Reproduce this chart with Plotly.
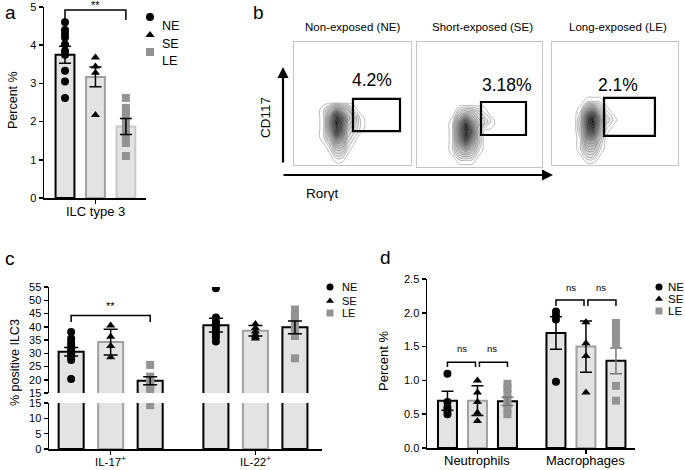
import plotly.graph_objects as go

W, H = 685, 470
FONT = "Liberation Sans, Arial, sans-serif"

groups = ["NE", "SE", "LE"]
symbols = ["circle", "triangle-up", "square"]
pt_colors = ["black", "black", "#939393"]

# ---------------- panel a ----------------
a_category = ["ILC type 3"]
a_mean = [3.75, 3.17, 1.87]
a_sem = [0.22, 0.26, 0.21]
a_ne_pts = [4.6, 4.4, 4.3, 4.2, 4.02, 3.85, 3.75, 3.33, 3.05, 2.62]
a_se_pts = [3.68, 3.44, 3.28, 2.17]
a_le_pts = [2.62, 2.36, 2.26, 2.12, 1.98, 1.84, 1.7, 1.56, 1.44, 1.1]
a_sig = "**"
a_bracket_y = [4.66, 4.92]

# ---------------- panel b ----------------
b_titles = ["Non-exposed (NE)", "Short-exposed (SE)", "Long-exposed (LE)"]
b_percent = ["4.2%", "3.18%", "2.1%"]
b_xlabel = "Rorγt"
b_ylabel = "CD117"
ne_fx = [2.0, 2.6, 3.1, 3.6, 4.1, 4.6, 5.1, 5.6, 6.2]
ne_fy = [0.0, 0.6, 1.4, 2.2, 3.0, 3.8, 4.5, 5.1]
ne_fz = [
    [0, 0, 0, 0, 0, 0, 0, 0, 0],
    [0, 0, 0, 1, 1, 0, 0, 0, 0],
    [0, 0, 1, 3, 3, 1, 0, 0, 0],
    [0, 1, 3, 6, 5, 2, 1, 0, 0],
    [0, 1, 5, 9, 7, 3, 2, 1, 0],
    [0, 1, 5, 10, 7, 4, 3, 1, 0],
    [0, 1, 3, 5, 4, 3, 1, 0, 0],
    [0, 0, 0, 0, 0, 0, 0, 0, 0],
]
se_fx = [2.4, 2.9, 3.4, 3.9, 4.4, 4.9, 5.4, 5.9, 6.4]
se_fy = [0.0, 0.6, 1.3, 2.0, 2.8, 3.6, 4.3, 5.0]
se_fz = [
    [0, 0, 0, 0, 0, 0, 0, 0, 0],
    [0, 0, 1, 1, 1, 0, 0, 0, 0],
    [0, 1, 3, 4, 3, 1, 0, 0, 0],
    [0, 1, 5, 7, 5, 2, 0, 0, 0],
    [0, 1, 6, 10, 7, 2, 0, 0, 0],
    [0, 1, 5, 8, 5, 3, 2, 1, 0],
    [0, 0, 2, 3, 3, 2, 1, 0, 0],
    [0, 0, 0, 0, 0, 0, 0, 0, 0],
]
le_fx = [1.8, 2.3, 2.8, 3.3, 3.8, 4.3, 4.8, 5.3]
le_fy = [0.0, 0.5, 1.3, 2.1, 2.9, 3.7, 4.4, 5.1, 5.7]
le_fz = [
    [0, 0, 0, 0, 0, 0, 0, 0],
    [0, 0, 1, 1, 0, 0, 0, 0],
    [0, 1, 3, 3, 1, 0, 0, 0],
    [0, 1, 5, 5, 2, 0, 0, 0],
    [0, 2, 7, 8, 4, 1, 0, 0],
    [0, 2, 8, 10, 5, 2, 1, 0],
    [0, 1, 5, 6, 3, 1, 0, 0],
    [0, 0, 1, 1, 1, 0, 0, 0],
    [0, 0, 0, 0, 0, 0, 0, 0],
]
gate_x0 = [5.04, 5.12, 4.13]
gate_x1 = [9.06, 8.72, 8.17]
gate_y0 = [2.76, 2.56, 2.36]
gate_y1 = [5.37, 5.20, 5.45]

# ---------------- panel c ----------------
c_categories = ["IL-17<sup>+</sup>", "IL-22<sup>+</sup>"]
c_ne_mean = [30.6, 40.6]
c_se_mean = [34.2, 38.5]
c_le_mean = [19.6, 39.8]
c_ne_sem = [1.6, 2.6]
c_se_sem = [4.9, 2.0]
c_le_sem = [1.5, 2.4]
c_ne_pts = [[38.0, 35.6, 34.2, 33.0, 32.0, 31.0, 30.0, 29.0, 28.2, 27.5, 20.3],
            [54.5, 43.5, 42.0, 41.0, 40.0, 39.0, 37.5, 36.0, 34.4]]
c_se_pts = [[40.5, 36.2, 32.7, 28.5],
            [41.0, 39.5, 38.2, 37.0, 36.2, 35.6]]
c_le_pts = [[25.6, 21.2, 19.8, 18.4, 17.2, 16.0, 14.3],
            [46.5, 44.2, 42.2, 40.2, 38.2, 36.5, 28.1]]
c_sig = "**"
c_bracket_y = [41.8, 44.2]

# ---------------- panel d ----------------
d_categories = ["Neutrophils", "Macrophages"]
d_ne_mean = [0.70, 1.70]
d_se_mean = [0.70, 1.50]
d_le_mean = [0.69, 1.29]
d_ne_sem = [0.14, 0.24]
d_se_sem = [0.22, 0.38]
d_le_sem = [0.06, 0.19]
d_ne_pts = [[1.10, 0.68, 0.60, 0.55, 0.50], [2.02, 1.96, 1.90, 0.98]]
d_se_pts = [[1.00, 0.82, 0.68, 0.52, 0.40], [1.86, 1.55, 1.36, 0.82]]
d_le_pts = [[0.95, 0.88, 0.80, 0.72, 0.65, 0.58, 0.50],
            [1.85, 1.78, 1.70, 1.62, 1.55, 0.92, 0.70]]
d_sig = ["ns", "ns"]
d_bracket_lo = [1.20, 2.10]
d_bracket_hi = [1.27, 2.19]
d_sig_y = [1.47, 2.37]

# ---------------- helpers ----------------
def xd(a, b):
    return [a / W, b / W]

def yd(top, bottom):
    return [1 - bottom / H, 1 - top / H]

def px(x):
    return x / W

def py(y):
    return 1 - y / H

BAR_FILL = "#e3e3e3"
fig = go.Figure()
shapes = []
annotations = []

def add_bars(xa, ya, centers, means, width, line_colors):
    for j, g in enumerate(groups):
        fig.add_trace(go.Bar(
            x=centers[j], y=means[j], width=width, xaxis=xa, yaxis=ya,
            marker=dict(color=BAR_FILL, line=dict(color=line_colors[j], width=2)),
            showlegend=False, hoverinfo="skip"))

def add_points(xa, ya, centers, pts, size=7):
    for j, g in enumerate(groups):
        xs, ys = [], []
        for i, plist in enumerate(pts[j]):
            xs += [centers[j][i]] * len(plist)
            ys += plist
        fig.add_trace(go.Scatter(
            x=xs, y=ys, mode="markers", xaxis=xa, yaxis=ya,
            marker=dict(symbol=symbols[j], color=pt_colors[j], size=size,
                        line=dict(width=0)),
            showlegend=False, hoverinfo="skip"))

def add_err(xa, ya, centers, means, sems, colors, w=6):
    for j, g in enumerate(groups):
        fig.add_trace(go.Scatter(
            x=centers[j], y=means[j], mode="markers", xaxis=xa, yaxis=ya,
            marker=dict(size=1, color="rgba(0,0,0,0)"),
            error_y=dict(type="data", array=sems[j], color=colors[j],
                         thickness=1.5, width=w),
            showlegend=False, hoverinfo="skip"))

def bracket(xa, ya, x0, x1, ylo, yhi, lw=1.5):
    shapes.append(dict(type="path", xref=xa, yref=ya,
                       path=f"M {x0},{ylo} L {x0},{yhi} L {x1},{yhi} L {x1},{ylo}",
                       line=dict(color="black", width=lw)))

def cat_labels(xa, positions, labels, ybottom_px, size):
    for xv, t in zip(positions, labels):
        annotations.append(dict(x=xv, y=py(ybottom_px), xref=xa, yref="paper",
                                text=t, showarrow=False, yanchor="top",
                                font=dict(size=size, family=FONT, color="black")))

# ---------------- panel a traces ----------------
a_off = 1.0
a_centers = [[j * a_off] for j in range(3)]
add_bars("x", "y", a_centers, [[m] for m in a_mean], 0.62,
         ["black", "#a0a0a0", "#c8c8c8"])
add_points("x", "y", a_centers, [[a_ne_pts], [a_se_pts], [a_le_pts]], size=8)
add_err("x", "y", a_centers, [[m] for m in a_mean], [[s] for s in a_sem],
        ["black", "black", "black"], w=6)
bracket("x", "y", a_centers[0][0], a_centers[2][0], a_bracket_y[0], a_bracket_y[1])
annotations.append(dict(x=a_centers[1][0], y=a_bracket_y[1], xref="x", yref="y",
                        text=a_sig, showarrow=False, yanchor="bottom", yshift=-3,
                        font=dict(size=11, family=FONT)))
cat_labels("x", [a_centers[1][0]], a_category, 202, 13)

# ---------------- panel b traces ----------------
flow = [(ne_fx, ne_fy, ne_fz), (se_fx, se_fy, se_fz), (le_fx, le_fy, le_fz)]
for k, (fx, fy, fz) in enumerate(flow):
    xa, ya = f"x{k+2}", f"y{k+2}"
    fig.add_trace(go.Contour(
        x=fx, y=fy, z=fz, xaxis=xa, yaxis=ya, showscale=False, zmin=0, zmax=10,
        contours=dict(start=0.35, end=10, size=0.55, coloring="fill"),
        colorscale=[[0, "rgba(255,255,255,0)"], [0.03, "rgba(255,255,255,0)"],
                    [0.04, "#f4f4f4"], [0.35, "#c4c4c4"], [0.7, "#505050"], [1, "#111"]],
        line=dict(color="#777777", width=0.5, smoothing=1.3),
        hoverinfo="skip"))
    shapes.append(dict(type="rect", xref=xa, yref=ya,
                       x0=gate_x0[k], x1=gate_x1[k], y0=gate_y0[k], y1=gate_y1[k],
                       line=dict(color="black", width=2.2)))

# ---------------- panel c traces ----------------
c_off = 0.273
c_centers = [[i + (j - 1) * c_off for i in range(2)] for j in range(3)]
c_means = [c_ne_mean, c_se_mean, c_le_mean]
c_sems = [c_ne_sem, c_se_sem, c_le_sem]
c_pts = [c_ne_pts, c_se_pts, c_le_pts]
c_lines = ["black", "#a0a0a0", "black"]
for ya in ["y6", "y5"]:
    add_bars("x5", ya, c_centers, c_means, 0.173, c_lines)
c_pts_top = [[[v for v in pl if v >= 15] for pl in g] for g in c_pts]
c_pts_bot = [[[v for v in pl if v < 15] for pl in g] for g in c_pts]
add_points("x5", "y5", c_centers, c_pts_top, size=8)
add_points("x5", "y6", c_centers, c_pts_bot, size=8)
add_err("x5", "y5", c_centers, c_means, c_sems, ["black", "black", "black"], w=7)
bracket("x5", "y5", c_centers[0][0], c_centers[2][0], c_bracket_y[0], c_bracket_y[1])
annotations.append(dict(x=c_centers[1][0], y=c_bracket_y[1], xref="x5", yref="y5",
                        text=c_sig, showarrow=False, yanchor="bottom", yshift=2,
                        font=dict(size=11, family=FONT)))
cat_labels("x5", [0, 1], c_categories, 452, 11.5)

# ---------------- panel d traces ----------------
d_off = 0.2765
d_centers = [[i + (j - 1) * d_off for i in range(2)] for j in range(3)]
d_means = [d_ne_mean, d_se_mean, d_le_mean]
d_sems = [d_ne_sem, d_se_sem, d_le_sem]
d_pts = [d_ne_pts, d_se_pts, d_le_pts]
add_bars("x7", "y7", d_centers, d_means, 0.175, ["black", "#a0a0a0", "black"])
add_points("x7", "y7", d_centers, d_pts, size=8)
add_err("x7", "y7", d_centers, d_means, d_sems, ["black", "black", "#777"], w=6)
gap = 0.018
for i in range(2):
    bracket("x7", "y7", d_centers[0][i], d_centers[1][i] - gap, d_bracket_lo[i], d_bracket_hi[i])
    bracket("x7", "y7", d_centers[1][i] + gap, d_centers[2][i], d_bracket_lo[i], d_bracket_hi[i])
    for a, b in [(0, 1), (1, 2)]:
        annotations.append(dict(x=(d_centers[a][i] + d_centers[b][i]) / 2, y=d_sig_y[i],
                                xref="x7", yref="y7", text=d_sig[i], showarrow=False,
                                font=dict(size=9.5, family=FONT)))
cat_labels("x7", [0, 1], d_categories, 451, 13)

# ---------------- legends (overlay axis, pixel space) ----------------
legend_pos = [
    dict(x=150, ys=[17, 35, 52], tx=162, fs=12.5, ms=8),
    dict(x=330, ys=[287, 301, 313], tx=342, fs=11, ms=7),
    dict(x=659, ys=[287, 299, 311], tx=668, fs=11.5, ms=7),
]
for lp in legend_pos:
    for j, g in enumerate(groups):
        fig.add_trace(go.Scatter(
            x=[lp["x"]], y=[lp["ys"][j]], mode="markers", xaxis="x8", yaxis="y8",
            marker=dict(symbol=symbols[j], color=pt_colors[j], size=lp["ms"]),
            showlegend=False, hoverinfo="skip"))
        annotations.append(dict(x=px(lp["tx"]), y=py(lp["ys"][j]), xref="paper",
                                yref="paper", text=g, showarrow=False, xanchor="left",
                                xshift=-2, font=dict(size=lp["fs"], family=FONT)))

# ---------------- text annotations ----------------
def ptext(x, y, t, size, angle=0, xanchor="center", yanchor="middle"):
    annotations.append(dict(x=px(x), y=py(y), xref="paper", yref="paper", text=t,
                            showarrow=False, textangle=angle, xanchor=xanchor,
                            yanchor=yanchor, font=dict(size=size, family=FONT, color="black")))

ptext(10, 12, "a", 19)
ptext(258, 13, "b", 19)
ptext(10, 258, "c", 19)
ptext(385, 257, "d", 19)
ptext(13, 100, "Percent %", 12.5, angle=-90)
ptext(15, 363, "% positive ILC3", 12.5, angle=-90)
ptext(383, 361, "Percent %", 13, angle=-90)
for t, cx in zip(b_titles, [353, 482, 618]):
    ptext(cx, 27, t, 11.5)
ptext(265, 118, b_ylabel, 13.5, angle=-90)
ptext(322, 193, b_xlabel, 13.5)
for k, (t, cx, cy) in enumerate(zip(b_percent, [372, 507, 618], [80, 85, 85])):
    ptext(cx, cy, t, 17.5)

# arrows for panel b
annotations.append(dict(x=px(283), y=py(67), xref="paper", yref="paper", text="",
                        ax=0, ay=97, axref="pixel", ayref="pixel", showarrow=True,
                        arrowhead=2, arrowsize=1, arrowwidth=2.2, arrowcolor="black"))
annotations.append(dict(x=px(553), y=py(175), xref="paper", yref="paper", text="",
                        ax=-271, ay=0, axref="pixel", ayref="pixel", showarrow=True,
                        arrowhead=2, arrowsize=1, arrowwidth=2.2, arrowcolor="black"))

# ---------------- axes ----------------
tickfont = dict(size=11, family=FONT, color="black")
base_ax = dict(showline=True, linecolor="black", linewidth=1.5, ticks="outside",
               tickcolor="black", tickwidth=1.5, ticklen=4, showgrid=False,
               zeroline=False, tickfont=tickfont, fixedrange=True, automargin=False)
flow_ax = dict(showline=True, mirror=True, linecolor="#c4c4c4", linewidth=1,
               showgrid=False, zeroline=False, showticklabels=False, ticks="",
               range=[0, 10], fixedrange=True, automargin=False)
cat_ax = dict(showticklabels=False)

layout = dict(
    width=W, height=H, margin=dict(l=0, r=0, t=0, b=0, pad=0, autoexpand=False),
    paper_bgcolor="white", plot_bgcolor="rgba(0,0,0,0)", showlegend=False,
    font=dict(family=FONT, color="black"), barmode="overlay",
    xaxis=dict(base_ax, domain=xd(44, 146), anchor="y", range=[-0.69, 2.66],
               tickvals=[1], **cat_ax),
    yaxis=dict(base_ax, domain=yd(7, 198), anchor="x", range=[0, 5], dtick=1),
    xaxis2=dict(flow_ax, domain=xd(294, 411), anchor="y2"),
    yaxis2=dict(flow_ax, domain=yd(42, 165), anchor="x2"),
    xaxis3=dict(flow_ax, domain=xd(417, 542), anchor="y3"),
    yaxis3=dict(flow_ax, domain=yd(42, 167), anchor="x3"),
    xaxis4=dict(flow_ax, domain=xd(552, 678), anchor="y4"),
    yaxis4=dict(flow_ax, domain=yd(42, 165), anchor="x4"),
    xaxis5=dict(base_ax, domain=xd(49, 322), anchor="y6", range=[-0.426, 1.46],
                tickvals=[0, 1], **cat_ax),
    yaxis5=dict(base_ax, domain=yd(287, 393), anchor="x5", range=[15, 55],
                tickvals=list(range(15, 56, 5))),
    yaxis6=dict(base_ax, domain=yd(403, 449), anchor="x5", range=[0, 15],
                tickvals=[0, 5, 10, 15]),
    xaxis7=dict(base_ax, domain=xd(427, 635), anchor="y7", range=[-0.465, 1.452],
                tickvals=[0, 1], **cat_ax),
    yaxis7=dict(base_ax, domain=yd(279, 448), anchor="x7", range=[0, 2.5],
                tickvals=[0, 0.5, 1.0, 1.5, 2.0, 2.5], tickformat=".1f"),
    xaxis8=dict(domain=[0, 1], range=[0, W], visible=False, anchor="y8",
                fixedrange=True, automargin=False),
    yaxis8=dict(domain=[0, 1], range=[H, 0], visible=False, anchor="x8",
                fixedrange=True, automargin=False),
    shapes=shapes, annotations=annotations,
)
fig.update_layout(**layout)

post = (
    "document.documentElement.style.margin='0';"
    "document.documentElement.style.overflow='hidden';"
    "document.body.style.margin='0';document.body.style.padding='0';"
    "document.body.style.overflow='hidden';"
    "var d=document.getElementById('{plot_id}');"
    "d.style.position='absolute';d.style.left='0px';d.style.top='0px';"
)
fig.write_html("out.html", post_script=post,
               config={"displayModeBar": False, "staticPlot": True})
